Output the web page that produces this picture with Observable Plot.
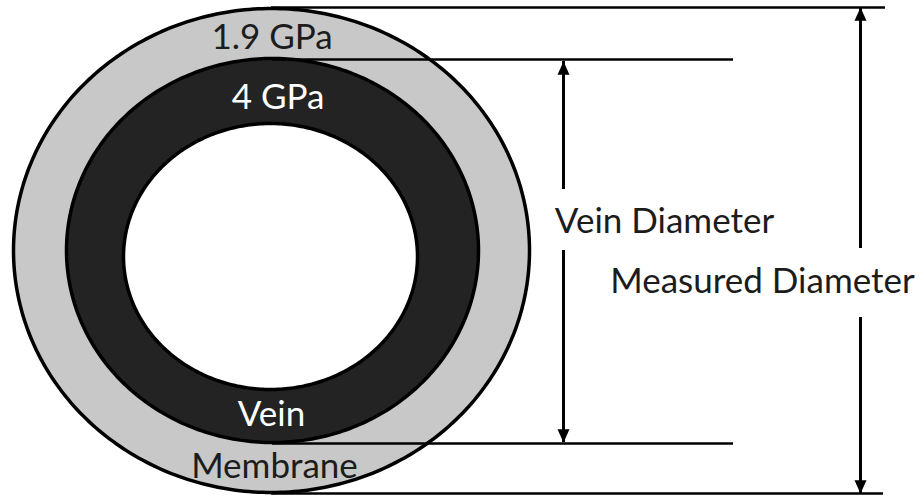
<!DOCTYPE html>
<html>
<head>
<meta charset="utf-8">
<script src="https://cdn.jsdelivr.net/npm/d3@7"></script>
<script src="https://cdn.jsdelivr.net/npm/@observablehq/plot@0.6"></script>
<style>
  html, body { margin: 0; padding: 0; background: #ffffff; }
  #chart svg { display: block; }
</style>
</head>
<body>
<div id="chart"></div>
<script>
// ---- Diagram values (pixel-space units of the 923 x 495 drawing) ----
// Concentric layers: membrane (outer), vein wall, lumen (inner)
const layerNames = ["membrane", "vein", "lumen"];
const layerCx = [271, 272, 270];
const layerCy = [250, 250, 256];
const layerRx = [258, 206, 147];
const layerRy = [242, 192, 133];

// Horizontal reference lines (extension lines for the dimensions)
const refLineY  = [7, 59, 443, 493];
const refLineX1 = [271, 272, 272, 271];
const refLineX2 = [885, 733, 733, 883];

// Dimension arrows: x position, tip at top, tip at bottom, text gap
const arrowNames = ["Vein Diameter", "Measured Diameter"];
const arrowX     = [563, 860];
const arrowTop   = [61, 7];
const arrowBot   = [442, 493];
const gapTop     = [189, 248];
const gapBot     = [250, 317];

// Labels
const darkLabels   = ["1.9 GPa", "Membrane", "Vein Diameter", "Measured Diameter"];
const darkLabelX   = [271.5, 274, 664, 762];
const darkLabelY   = [37, 466, 221, 281];
const lightLabels  = ["4 GPa", "Vein"];
const lightLabelX  = [277.5, 271];
const lightLabelY  = [97, 414];

// ---- Build tables from the arrays ----
const layers = layerNames.map((name, i) => ({name, cx: layerCx[i], cy: layerCy[i], rx: layerRx[i], ry: layerRy[i]}));
function outline(L) {
  const n = 360;
  return d3.range(n).map(k => {
    const t = (k / n) * 2 * Math.PI;
    return {x: L.cx + L.rx * Math.cos(t), y: L.cy + L.ry * Math.sin(t)};
  });
}
const refLines = refLineY.map((y, i) => ({y, x1: refLineX1[i], x2: refLineX2[i]}));
const shafts = arrowNames.flatMap((name, i) => [
  {x: arrowX[i], y1: arrowTop[i], y2: gapTop[i]},
  {x: arrowX[i], y1: gapBot[i], y2: arrowBot[i]}
]);
const headsUp = arrowNames.map((name, i) => ({x: arrowX[i], y: arrowTop[i]}));
const headsDown = arrowNames.map((name, i) => ({x: arrowX[i], y: arrowBot[i]}));
const dark = darkLabels.map((t, i) => ({text: t, x: darkLabelX[i], y: darkLabelY[i]}));
const light = lightLabels.map((t, i) => ({text: t, x: lightLabelX[i], y: lightLabelY[i]}));

// Triangle arrowheads with their tip at the anchor point
const triUp = {draw(ctx, size) {
  const s = Math.sqrt(size / Math.PI);
  ctx.moveTo(0, 0); ctx.lineTo(-s, 2.2 * s); ctx.lineTo(s, 2.2 * s); ctx.closePath();
}};
const triDown = {draw(ctx, size) {
  const s = Math.sqrt(size / Math.PI);
  ctx.moveTo(0, 0); ctx.lineTo(-s, -2.2 * s); ctx.lineTo(s, -2.2 * s); ctx.closePath();
}};

const layerFill = {membrane: "#c8c8c8", vein: "#232323", lumen: "#ffffff"};
const font = "Lato, 'Open Sans', sans-serif";

const chart = Plot.plot({
  width: 923,
  height: 495,
  margin: 0,
  style: {background: "#ffffff", overflow: "visible"},
  x: {domain: [0, 923], range: [0, 923], axis: null},
  y: {domain: [0, 495], range: [0, 495], axis: null},
  marks: [
    Plot.ruleY(refLines.slice(3), {y: "y", x1: "x1", x2: "x2", stroke: "#000", strokeWidth: 2.5}),
    ...layers.map(L => Plot.line(outline(L), {
      x: "x", y: "y", curve: "linear-closed",
      fill: layerFill[L.name], stroke: "#000", strokeWidth: 3.5
    })),
    Plot.ruleY(refLines.slice(0, 3), {y: "y", x1: "x1", x2: "x2", stroke: "#000", strokeWidth: 2.5}),
    Plot.ruleX(shafts, {x: "x", y1: "y1", y2: "y2", stroke: "#000", strokeWidth: 3}),
    Plot.dot(headsUp, {x: "x", y: "y", symbol: triUp, r: 6, fill: "#000", stroke: "none"}),
    Plot.dot(headsDown, {x: "x", y: "y", symbol: triDown, r: 6, fill: "#000", stroke: "none"}),
    Plot.text(dark, {x: "x", y: "y", text: "text", fill: "#1c1c1c", fontSize: 35, fontFamily: font, textAnchor: "middle"}),
    Plot.text(light, {x: "x", y: "y", text: "text", fill: "#ffffff", fontSize: 35, fontFamily: font, textAnchor: "middle"})
  ]
});
document.getElementById("chart").appendChild(chart);
</script>
</body>
</html>
